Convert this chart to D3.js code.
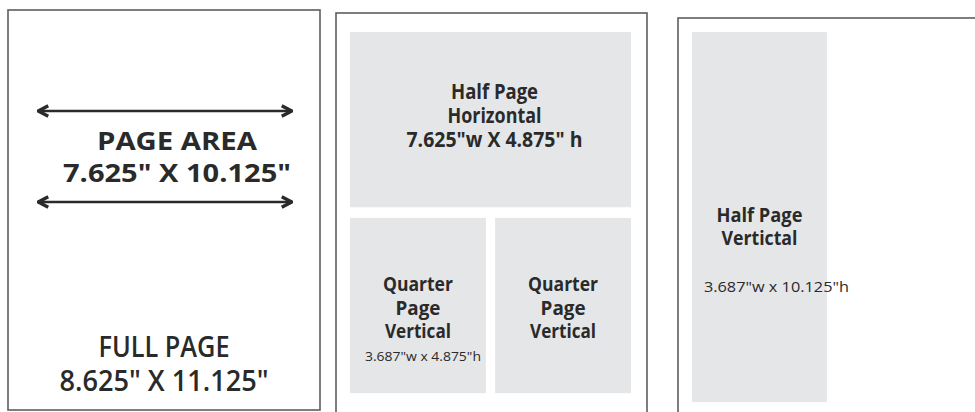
<!DOCTYPE html>
<html>
<head>
<meta charset="utf-8">
<script src="https://cdn.jsdelivr.net/npm/d3@7"></script>
<style>
  body { margin: 0; background: #fff; }
  svg { display: block; font-family: "Open Sans", sans-serif; }
</style>
</head>
<body>
<svg width="975" height="412"></svg>
<script>
// page sizes, inches
const fullPage = [8.625, 11.125]
const pageArea = [7.625, 10.125]

// ad units: name lines, width, height (inches)
const adLines = [
  ["Half Page", "Horizontal", "7.625\"w X 4.875\" h"],
  ["Quarter", "Page", "Vertical"],
  ["Quarter", "Page", "Vertical"],
  ["Half Page", "Vertictal"]
]
const adDims = ["", "3.687\"w x 4.875\"h", "", "3.687\"w x 10.125\"h"]
const adW = [7.625, 3.687, 3.687, 3.687]
const adH = [4.875, 4.875, 4.875, 10.125]

const fullLabel = ["PAGE AREA", "7.625\" X 10.125\""]
const fullFoot = ["FULL PAGE", "8.625\" X 11.125\""]

const svg = d3.select("svg")
const frameColor = "#5e5e5e"
const boxFill = "#e5e6e8"
const ink = "#2a2a2a"

// one scale per sheet, inches -> px
const sheet1 = {
  x: d3.scaleLinear().domain([0, fullPage[0]]).range([8, 320]),
  y: d3.scaleLinear().domain([0, fullPage[1]]).range([10, 410])
}
const sheet2 = {
  x: d3.scaleLinear().domain([0, pageArea[0]]).range([350, 631]),
  y: d3.scaleLinear().domain([0, pageArea[1]]).range([32, 396])
}
const sheet3 = {
  x: d3.scaleLinear().domain([0, pageArea[0]]).range([692, 971]),
  y: d3.scaleLinear().domain([0, pageArea[1]]).range([32, 402])
}

// sheet frames
svg.append("rect")
  .attr("x", sheet1.x(0)).attr("y", sheet1.y(0))
  .attr("width", sheet1.x(fullPage[0]) - sheet1.x(0))
  .attr("height", sheet1.y(fullPage[1]) - sheet1.y(0))
  .attr("fill", "none").attr("stroke", frameColor).attr("stroke-width", 1.6)

svg.append("rect")
  .attr("x", 336).attr("y", 13).attr("width", 311).attr("height", 420)
  .attr("fill", "none").attr("stroke", frameColor).attr("stroke-width", 1.6)

svg.append("rect")
  .attr("x", 678).attr("y", 18).attr("width", 320).attr("height", 420)
  .attr("fill", "none").attr("stroke", frameColor).attr("stroke-width", 1.6)

// arrows on the full page
const defs = svg.append("defs")
defs.append("marker")
  .attr("id", "head")
  .attr("viewBox", "0 0 10 10")
  .attr("refX", 8.5).attr("refY", 5)
  .attr("markerWidth", 5.5).attr("markerHeight", 5.5)
  .attr("orient", "auto-start-reverse")
  .attr("markerUnits", "strokeWidth")
  .append("path")
  .attr("d", "M1.5,1 L9,5 L1.5,9")
  .attr("fill", "none").attr("stroke", ink).attr("stroke-width", 2.6)
  .attr("stroke-linejoin", "miter")

const arrowY = [111, 202]
svg.selectAll(".arrow")
  .data(arrowY)
  .join("line")
  .attr("class", "arrow")
  .attr("x1", 39).attr("x2", 291)
  .attr("y1", d => d).attr("y2", d => d)
  .attr("stroke", ink).attr("stroke-width", 2.4)
  .attr("marker-start", "url(#head)")
  .attr("marker-end", "url(#head)")

svg.selectAll(".area-label")
  .data(fullLabel)
  .join("text")
  .attr("class", "area-label")
  .attr("x", 177)
  .attr("y", (d, i) => 150 + i * 32)
  .attr("text-anchor", "middle")
  .attr("font-size", 25)
  .attr("font-weight", 700)
  .attr("fill", ink)
  .attr("textLength", (d, i) => [160, 228][i])
  .attr("lengthAdjust", "spacingAndGlyphs")
  .text(d => d)

svg.selectAll(".foot-label")
  .data(fullFoot)
  .join("text")
  .attr("class", "foot-label")
  .attr("x", 164)
  .attr("y", (d, i) => 357 + i * 34)
  .attr("text-anchor", "middle")
  .attr("font-size", 28)
  .attr("font-weight", 600)
  .attr("fill", ink)
  .attr("textLength", (d, i) => [131, 209][i])
  .attr("lengthAdjust", "spacingAndGlyphs")
  .text(d => d)

// ad boxes, placed inside the page area
const quarterTop = 5.17
const ads = adW.map((w, i) => {
  let s = sheet2, x0 = 0, y0 = 0
  if (i === 1) { y0 = quarterTop }
  if (i === 2) { x0 = pageArea[0] - w; y0 = quarterTop }
  if (i === 3) { s = sheet3 }
  return { i, s, x0, y0, w, h: adH[i], lines: adLines[i], dim: adDims[i] }
})

svg.selectAll(".ad")
  .data(ads)
  .join("rect")
  .attr("class", "ad")
  .attr("x", d => d.s.x(d.x0))
  .attr("y", d => d.s.y(d.y0))
  .attr("width", d => d.s.x(d.x0 + d.w) - d.s.x(d.x0))
  .attr("height", d => d.s.y(Math.min(d.y0 + d.h, pageArea[1])) - d.s.y(d.y0))
  .attr("fill", boxFill)

// label layout per ad
const labelTop = [99, 291, 291, 222]
const labelStep = [24, 23.5, 23.5, 23]
const labelSize = [21, 20, 20, 20]
const nameWidths = [[87, 94, 176], [70, 45, 66], [70, 45, 66], [86, 76]]
const labelShift = [4, 0, 0, 0]
const dimTop = [0, 361, 0, 292]
const dimSize = [0, 12.5, 0, 15]
const dimWidth = [0, 116, 0, 145]
const dimShift = [0, 5, 0, 17]

const labels = svg.selectAll(".ad-label")
  .data(ads)
  .join("g")
  .attr("class", "ad-label")

labels.selectAll("text.name")
  .data(d => d.lines.map((t, k) => ({ t, k, ad: d })))
  .join("text")
  .attr("class", "name")
  .attr("x", d => d.ad.s.x(d.ad.x0 + d.ad.w / 2) + labelShift[d.ad.i])
  .attr("y", d => labelTop[d.ad.i] + d.k * labelStep[d.ad.i])
  .attr("text-anchor", "middle")
  .attr("font-size", d => labelSize[d.ad.i])
  .attr("font-weight", 700)
  .attr("fill", ink)
  .attr("textLength", d => nameWidths[d.ad.i][d.k])
  .attr("lengthAdjust", "spacingAndGlyphs")
  .text(d => d.t)

labels.filter(d => d.dim)
  .append("text")
  .attr("x", d => d.s.x(d.x0 + d.w / 2) + dimShift[d.i])
  .attr("y", d => dimTop[d.i])
  .attr("text-anchor", "middle")
  .attr("font-size", d => dimSize[d.i])
  .attr("fill", ink)
  .attr("textLength", d => dimWidth[d.i])
  .attr("lengthAdjust", "spacingAndGlyphs")
  .text(d => d.dim)
</script>
</body>
</html>
